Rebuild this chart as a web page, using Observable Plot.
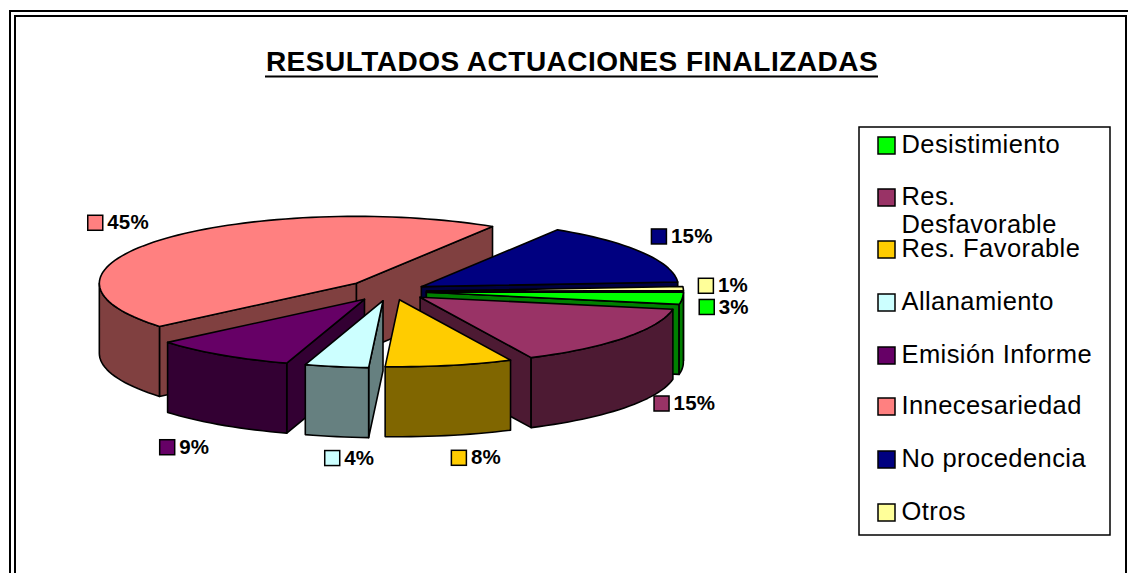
<!DOCTYPE html>
<html><head><meta charset="utf-8">
<script src="https://cdn.jsdelivr.net/npm/d3@7"></script>
<script src="https://cdn.jsdelivr.net/npm/@observablehq/plot@0.6"></script>
<style>html,body{margin:0;padding:0;background:#fff;overflow:hidden}svg{display:block;max-width:none}
.ttl text{letter-spacing:.5px}.lgd text{letter-spacing:.42px}.val text{letter-spacing:.2px}</style>
</head><body><div id="chart"></div>
<script>
const titleText = "RESULTADOS ACTUACIONES FINALIZADAS";
const categories = ["Desistimiento","Res. Desfavorable","Res. Favorable","Allanamiento","Emisión Informe","Innecesariedad","No procedencia","Otros"];
const legendLabels = ["Desistimiento","Res.\nDesfavorable","Res. Favorable","Allanamiento","Emisión Informe","Innecesariedad","No procedencia","Otros"];
const values = [3,15,8,4,9,45,15,1];
const topColors = ["#00FF00","#993366","#FFCC00","#CCFFFF","#660066","#FF8080","#000080","#FFFF99"];
const wallColors = ["#008000","#4D1A33","#806600","#668080","#330033","#804040","#000040","#80804D"];

// Layout of the 3D pie (not data)
const C = {x:386, y:291}, rx = 257, ry = 67, depth = 70, explode = 36, startDeg = 0.4;
const sliceNudge = [[4,0],[5,0],[6,-1],[3,0],[-2,0],[-3,-2],[4,0],[4,0]];
const labelNudge = [[-28,7],[2,-17],[23,1],[36,1],[11,5],[13,-5],[-24,-5],[-30,-2]];
const legendY = [145,197,249,302,355,406,459,512];

const rad = d => d*Math.PI/180;
const total = d3.sum(values);
let acc = startDeg;
const slices = values.map((v,i)=>{
  const hi = acc, lo = acc - v/total*360; acc = lo;
  const mid = (hi+lo)/2;
  return {i,v,hi,lo,mid,
    cx: C.x + explode*Math.cos(rad(mid)) + sliceNudge[i][0],
    cy: C.y - explode*(ry/rx)*Math.sin(rad(mid)) + sliceNudge[i][1]};
});
const pt = (s,a,dz=0)=>({x:s.cx+rx*Math.cos(rad(a)), y:s.cy-ry*Math.sin(rad(a))+dz});
const arc = (s,a,b,dz=0)=>{const n=Math.max(2,Math.ceil(Math.abs(b-a)/2));
  return d3.range(n+1).map(k=>pt(s,a+(b-a)*k/n,dz));};
const close = p=>[...p,p[0]];
const face = (pts,fill)=>Plot.line(pts,{x:"x",y:"y",fill,stroke:"#000",strokeWidth:1.6,strokeLinejoin:"round",curve:"linear"});

const pieMarks = [];
[...slices].sort((a,b)=>Math.sin(rad(b.mid))-Math.sin(rad(a.mid))).forEach(s=>{
  const wall = wallColors[s.i], apex={x:s.cx,y:s.cy}, apexB={x:s.cx,y:s.cy+depth};
  if (Math.cos(rad(s.lo))>0) { const e=pt(s,s.lo), f=pt(s,s.lo,depth); pieMarks.push(face(close([apex,e,f,apexB]),wall)); }
  if (Math.cos(rad(s.hi))<0) { const e=pt(s,s.hi), f=pt(s,s.hi,depth); pieMarks.push(face(close([apex,e,f,apexB]),wall)); }
  // outer wall: the part of the rim in the front half
  [[-180,0],[-540,-360]].forEach(([a0,b0])=>{
    const a=Math.max(s.lo,a0), b=Math.min(s.hi,b0);
    if (b>a) pieMarks.push(face(close([...arc(s,a,b),...arc(s,b,a,depth)]),wall));
  });
  pieMarks.push(face(close([apex,...arc(s,s.lo,s.hi)]),topColors[s.i]));
});

const labelRows = slices.map(s=>{
  const sn=Math.sin(rad(s.mid));
  const x=C.x+1.45*rx*Math.cos(rad(s.mid))+labelNudge[s.i][0];
  const y=C.y-1.45*ry*sn+(sn<-0.5?depth:0)+labelNudge[s.i][1];
  return {x,y,text:s.v+"%",color:topColors[s.i]};
});
const legendRows = categories.map((c,i)=>({y:legendY[i],label:legendLabels[i],color:topColors[i]}));

const chart = Plot.plot({
  width:1128,height:573,margin:0,
  x:{domain:[0,1128],range:[0,1128],axis:null},
  y:{domain:[0,573],range:[0,573],axis:null},
  style:{fontFamily:"'Liberation Sans',Arial,sans-serif",background:"#fff",color:"#000"},
  marks:[
    Plot.rect([{x1:10,x2:1140,y1:11,y2:600}],{x1:"x1",x2:"x2",y1:"y1",y2:"y2",fill:"none",stroke:"#000",strokeWidth:2}),
    Plot.rect([{x1:15,x2:1126,y1:16,y2:600}],{x1:"x1",x2:"x2",y1:"y1",y2:"y2",fill:"none",stroke:"#000",strokeWidth:2}),
    Plot.text([titleText],{x:571.5,y:62,text:d=>d,fontSize:28,fontWeight:"bold",fill:"#000",className:"ttl"}),
    Plot.ruleY([76],{x1:265,x2:878,stroke:"#000",strokeWidth:2}),
    ...pieMarks,
    Plot.rect(labelRows,{x1:d=>d.x-30,x2:d=>d.x-15,y1:d=>d.y-7,y2:d=>d.y+8,fill:"color",stroke:"#000",strokeWidth:1.5}),
    Plot.text(labelRows,{x:d=>d.x-11,y:"y",text:"text",textAnchor:"start",fontSize:20.5,fontWeight:"bold",fill:"#000",className:"val"}),
    Plot.rect([{x1:859,x2:1110,y1:127,y2:535}],{x1:"x1",x2:"x2",y1:"y1",y2:"y2",fill:"#fff",stroke:"#000",strokeWidth:1.5}),
    Plot.rect(legendRows,{x1:878,x2:895,y1:d=>d.y-8,y2:d=>d.y+9,fill:"color",stroke:"#000",strokeWidth:1.5}),
    Plot.text(legendRows,{x:901,y:d=>d.y-13,text:"label",textAnchor:"start",lineAnchor:"top",lineHeight:1.12,fontSize:25.5,fill:"#000",className:"lgd"})
  ]
});
document.getElementById("chart").append(chart);
</script></body></html>
